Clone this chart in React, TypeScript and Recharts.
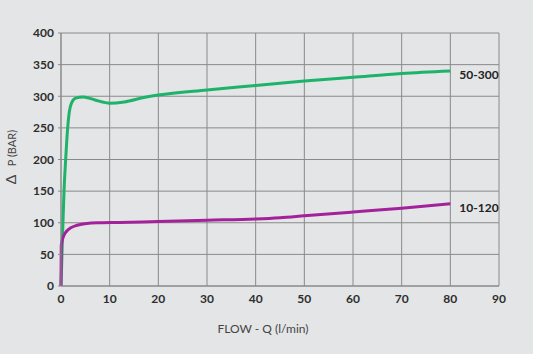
import { LineChart, Line, XAxis, YAxis, CartesianGrid, LabelList } from 'recharts'

// flow (l/min) / pressure (bar) readings, model 50-300
const flow50300 = [0, 0.2, 0.4, 0.62, 0.96, 1.37, 1.7, 2.2, 3, 4.6, 7, 10, 13, 17, 20, 30, 40, 50, 60, 70, 80]
const bar50300 = [0, 50, 100, 150, 200, 250, 275, 290, 297, 299, 294, 289, 291, 298, 302, 310, 317, 324, 330, 336, 340]

// model 10-120
const flow10120 = [0, 0.05, 0.5, 1.2, 2, 3.3, 5.3, 8, 12, 20, 30, 40, 45, 50, 60, 70, 80]
const bar10120 = [0, 64, 78, 87, 92, 96, 99, 100, 100.5, 102, 104, 106, 108, 111, 117, 123, 130]

const xTicks = [0, 10, 20, 30, 40, 50, 60, 70, 80, 90]
const yTicks = [0, 50, 100, 150, 200, 250, 300, 350, 400]

const seriesNames = ['50-300', '10-120']

const GREEN = '#1db36a'
const MAGENTA = '#a3229b'
const BG = '#e4e5e6'
const GRID = '#8a8a8a'
const FONT = 'Lato, "DejaVu Sans", sans-serif'

const green = flow50300.map((q, i) => ({ q, p: bar50300[i] }))
const magenta = flow10120.map((q, i) => ({ q, p: bar10120[i] }))

// label only the last point of a series
const endLabel = (name: string, count: number) => (props: any) => {
  const { x, y, index } = props
  if (index !== count - 1) return null
  return (
    <text x={x + 9} y={y + 4} dy="0.35em" fontFamily={FONT} fontWeight={700} fontSize={12} fill="#222">
      {name}
    </text>
  )
}

export default function App() {
  return (
    <div style={{ position: 'absolute', left: 0, top: 0, width: 533, height: 354, background: BG }}>
      <LineChart width={533} height={354} margin={{ top: 33, right: 34, left: 0, bottom: 38 }}>
        <CartesianGrid stroke={GRID} strokeWidth={1} horizontalValues={yTicks} verticalValues={xTicks} />
        <XAxis
          dataKey="q"
          type="number"
          domain={[0, 90]}
          ticks={xTicks}
          height={30}
          tickLine={false}
          axisLine={{ stroke: GRID }}
          tick={{ fontFamily: FONT, fontWeight: 700, fontSize: 12, fill: '#2e2e2e' }}
          allowDuplicatedCategory={false}
        />
        <YAxis
          type="number"
          domain={[0, 400]}
          ticks={yTicks}
          width={61}
          tickSize={3}
          tickMargin={4}
          tickLine={{ stroke: GRID }}
          axisLine={{ stroke: GRID }}
          tick={{ fontFamily: FONT, fontWeight: 700, fontSize: 12, fill: '#2e2e2e' }}
        />
        <Line
          data={green}
          dataKey="p"
          type="monotone"
          stroke={GREEN}
          strokeWidth={3}
          dot={false}
          isAnimationActive={false}
        >
          <LabelList dataKey="p" content={endLabel(seriesNames[0], green.length)} />
        </Line>
        <Line
          data={magenta}
          dataKey="p"
          type="monotone"
          stroke={MAGENTA}
          strokeWidth={3}
          dot={false}
          isAnimationActive={false}
        >
          <LabelList dataKey="p" content={endLabel(seriesNames[1], magenta.length)} />
        </Line>
      </LineChart>
      <div
        style={{
          position: 'absolute',
          left: 10,
          top: 157,
          transform: 'translate(-50%, -50%) rotate(-90deg)',
          whiteSpace: 'nowrap',
          fontFamily: FONT,
          fontSize: 11,
          color: '#444',
        }}
      >
        <span style={{ fontSize: 14 }}>Δ</span>&nbsp;&nbsp;&nbsp;P (BAR)
      </div>
      <div
        style={{
          position: 'absolute',
          left: 263,
          top: 328,
          transform: 'translate(-50%, -50%)',
          whiteSpace: 'nowrap',
          fontFamily: FONT,
          fontSize: 12,
          color: '#444',
        }}
      >
        FLOW - Q (l/min)
      </div>
    </div>
  )
}
